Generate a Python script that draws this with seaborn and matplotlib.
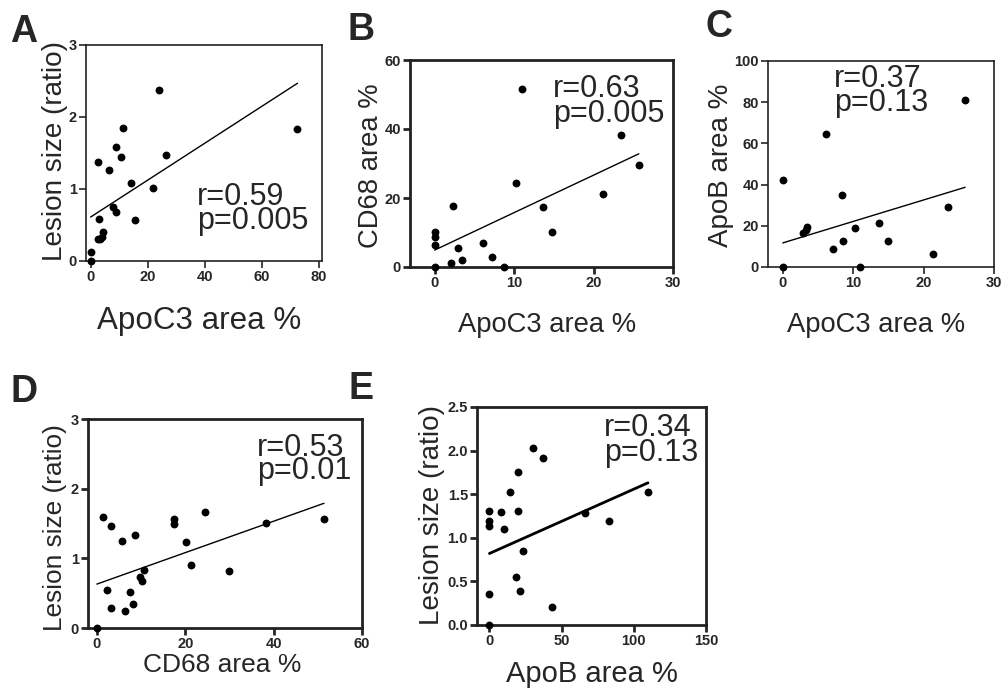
import matplotlib
matplotlib.use("Agg")
import matplotlib.pyplot as plt
from matplotlib import font_manager
import seaborn as sns
import pandas as pd

# Panel A: ApoC3 area % vs lesion size (ratio)
a_apoc3 = [0.0, 0.0, 2.5, 3.3, 3.9, 4.4, 3.0, 2.5, 6.4, 7.7, 9.1, 8.9, 10.6, 11.5, 14.2, 15.6, 21.8, 23.9, 26.3, 72.6]
a_lesion = [0.0, 0.12, 0.31, 0.31, 0.34, 0.40, 0.58, 1.37, 1.27, 0.75, 0.68, 1.58, 1.44, 1.85, 1.08, 0.57, 1.01, 2.37, 1.47, 1.84]
a_fit = (0.61, 0.0256)  # intercept, slope as drawn

# Panel B: ApoC3 area % vs CD68 area %
b_apoc3 = [0, 0, 0, 0, 2.0, 2.3, 3.0, 3.5, 6.1, 7.2, 8.7, 10.3, 11.0, 13.7, 14.8, 21.2, 23.4, 25.7]
b_cd68 = [10.0, 8.6, 6.3, 0.0, 1.3, 17.6, 5.4, 2.0, 7.1, 2.9, 0.0, 24.4, 51.5, 17.3, 10.2, 21.2, 38.2, 29.6]
b_fit = (4.9, 1.086)

# Panel C: ApoC3 area % vs ApoB area %
c_apoc3 = [0, 0, 2.9, 3.3, 3.5, 6.1, 7.2, 8.4, 8.6, 10.3, 11.0, 13.7, 14.9, 21.4, 23.5, 25.9]
c_apob = [42.3, 0.0, 16.7, 18.2, 19.2, 64.7, 8.5, 35.0, 12.7, 18.7, 0.0, 21.5, 12.5, 6.2, 28.9, 81.3]
c_fit = (11.7, 1.042)

# Panel D: CD68 area % vs lesion size (ratio)
d_cd68 = [0, 1.5, 2.3, 3.3, 3.3, 5.7, 6.4, 7.4, 8.2, 8.6, 9.8, 10.2, 10.6, 17.4, 17.4, 20.2, 21.2, 24.5, 29.8, 38.3, 51.4]
d_lesion = [0.0, 1.59, 0.55, 1.47, 0.28, 1.25, 0.25, 0.51, 0.34, 1.34, 0.73, 0.67, 0.83, 1.57, 1.50, 1.24, 0.91, 1.67, 0.82, 1.51, 1.57]
d_fit = (0.63, 0.02257)

# Panel E: ApoB area % vs lesion size (ratio)
e_apob = [0, 0, 0, 0, 0, 7.7, 10.4, 14.2, 20.0, 20.0, 18.6, 21.1, 23.2, 30.4, 37.1, 43.6, 66.2, 82.7, 109.8]
e_lesion = [0.0, 0.35, 1.14, 1.19, 1.31, 1.30, 1.10, 1.53, 1.31, 1.76, 0.55, 0.39, 0.85, 2.03, 1.91, 0.21, 1.28, 1.19, 1.53]
e_fit = (0.82, 0.00738)

sns.set_style("ticks")
names = {f.name for f in font_manager.fontManager.ttflist}
narrow = "Liberation Sans Narrow" in names
plt.rcParams["font.family"] = ["Liberation Sans", "DejaVu Sans"]
NARROW = ["Liberation Sans Narrow", "Liberation Sans"] if narrow else ["Liberation Sans"]
nscale = 1.0 if narrow else 0.82

W, H = 1005, 693
fig = plt.figure(figsize=(W / 100, H / 100), dpi=100)


def box(left, top, right, bottom):
    return [left / W, 1 - bottom / H, (right - left) / W, (bottom - top) / H]


panels = [
    dict(letter="A", rect=box(86, 45, 322, 261), x=a_apoc3, y=a_lesion, fit=a_fit, xlim=(-1.6, 81.2), ylim=(0, 3),
         xt=[0, 20, 40, 60, 80], yt=[0, 1, 2, 3], yfmt="{:.0f}", spine=1.2, reg=1.0,
         xl="ApoC3 area %", xls=27.5, xlf=NARROW, xlpos=(0.48, -0.315),
         yl="Lesion size (ratio)", yls=24.5, ylf=NARROW, ylpos=(-0.13, 0.51),
         r="r=0.59", p="p=0.005", tx=0.47, ry=0.259, py=0.148, lpos=(10, 42)),
    dict(letter="B", rect=box(410, 60, 673, 267), x=b_apoc3, y=b_cd68, fit=b_fit, xlim=(-3.1, 30), ylim=(0, 60),
         xt=[0, 10, 20, 30], yt=[0, 20, 40, 60], yfmt="{:.0f}", spine=2.0, reg=1.0,
         xl="ApoC3 area %", xls=24, xlf=NARROW, xlpos=(0.52, -0.314),
         yl="CD68 area %", yls=24, ylf=NARROW, ylpos=(-0.15, 0.49),
         r="r=0.63", p="p=0.005", tx=0.544, ry=0.821, py=0.70, lpos=(347, 40)),
    dict(letter="C", rect=box(768, 61, 994, 267), x=c_apoc3, y=c_apob, fit=c_fit, xlim=(-2.1, 30), ylim=(0, 100),
         xt=[0, 10, 20, 30], yt=[0, 20, 40, 60, 80, 100], yfmt="{:.0f}", spine=1.2, reg=1.0,
         xl="ApoC3 area %", xls=24, xlf=NARROW, xlpos=(0.48, -0.314),
         yl="ApoB area %", yls=20, ylf=["Liberation Sans"], ylpos=(-0.21, 0.495),
         r="r=0.37", p="p=0.13", tx=0.292, ry=0.874, py=0.757, lpos=(705, 37)),
    dict(letter="D", rect=box(88, 419, 362, 628), x=d_cd68, y=d_lesion, fit=d_fit, xlim=(-2, 60), ylim=(0, 3),
         xt=[0, 20, 40, 60], yt=[0, 1, 2, 3], yfmt="{:.0f}", spine=2.0, reg=1.0,
         xl="CD68 area %", xls=19, xlf=["Liberation Sans"], xlpos=(0.49, -0.21),
         yl="Lesion size (ratio)", yls=23, ylf=NARROW, ylpos=(-0.12, 0.48),
         r="r=0.53", p="p=0.01", tx=0.617, ry=0.823, py=0.713, lpos=(10, 402)),
    dict(letter="E", rect=box(477, 407, 706, 625), x=e_apob, y=e_lesion, fit=e_fit, xlim=(-8.6, 150), ylim=(0, 2.5),
         xt=[0, 50, 100, 150], yt=[0, 0.5, 1.0, 1.5, 2.0, 2.5], yfmt="{:.1f}", spine=2.0, reg=2.0,
         xl="ApoB area %", xls=21, xlf=["Liberation Sans"], xlpos=(0.5, -0.26),
         yl="Lesion size (ratio)", yls=24.5, ylf=NARROW, ylpos=(-0.195, 0.505),
         r="r=0.34", p="p=0.13", tx=0.553, ry=0.869, py=0.751, lpos=(348, 399)),
]

for pn in panels:
    ax = fig.add_axes(pn["rect"])
    df = pd.DataFrame({"x": pn["x"], "y": pn["y"]})
    sns.regplot(data=df, x="x", y="y", ax=ax, fit_reg=False,
                scatter_kws=dict(s=32, color="black", alpha=1, linewidths=0, clip_on=False, zorder=3))
    # fitted line over the data range
    b0, b1 = pn["fit"]
    xr = [df["x"].min(), df["x"].max()]
    sns.lineplot(x=xr, y=[b0 + b1 * v for v in xr], ax=ax, color="black", lw=pn["reg"])
    ax.set_xlim(*pn["xlim"])
    ax.set_ylim(*pn["ylim"])
    ax.set_xticks(pn["xt"])
    ax.set_xticklabels([str(v) for v in pn["xt"]])
    ax.set_yticks(pn["yt"])
    ax.set_yticklabels([pn["yfmt"].format(v) for v in pn["yt"]])
    for s in ax.spines.values():
        s.set_linewidth(pn["spine"])
        s.set_color("#222222")
    ax.tick_params(axis="both", direction="out", length=5, width=pn["spine"], labelsize=10.5, pad=1.5)
    for lab in ax.get_xticklabels() + ax.get_yticklabels():
        lab.set_fontweight("bold")

    xs = pn["xls"] * (1.0 if pn["xlf"] is not NARROW else nscale)
    ys = pn["yls"] * (1.0 if pn["ylf"] is not NARROW else nscale)
    ax.set_xlabel(pn["xl"], fontsize=xs, family=pn["xlf"], va="baseline")
    ax.xaxis.set_label_coords(*pn["xlpos"])
    ax.set_ylabel(pn["yl"], fontsize=ys, family=pn["ylf"], va="center")
    ax.yaxis.set_label_coords(*pn["ylpos"])

    ax.text(pn["tx"], pn["ry"], pn["r"], transform=ax.transAxes, fontsize=22, va="baseline", ha="left")
    ax.text(pn["tx"], pn["py"], pn["p"], transform=ax.transAxes, fontsize=22, va="baseline", ha="left")

    lx, ly = pn["lpos"]
    fig.text(lx / W, 1 - ly / H, pn["letter"], fontsize=27, fontweight="bold", va="baseline", ha="left")

fig.savefig("out.png", dpi=100, facecolor="white")
